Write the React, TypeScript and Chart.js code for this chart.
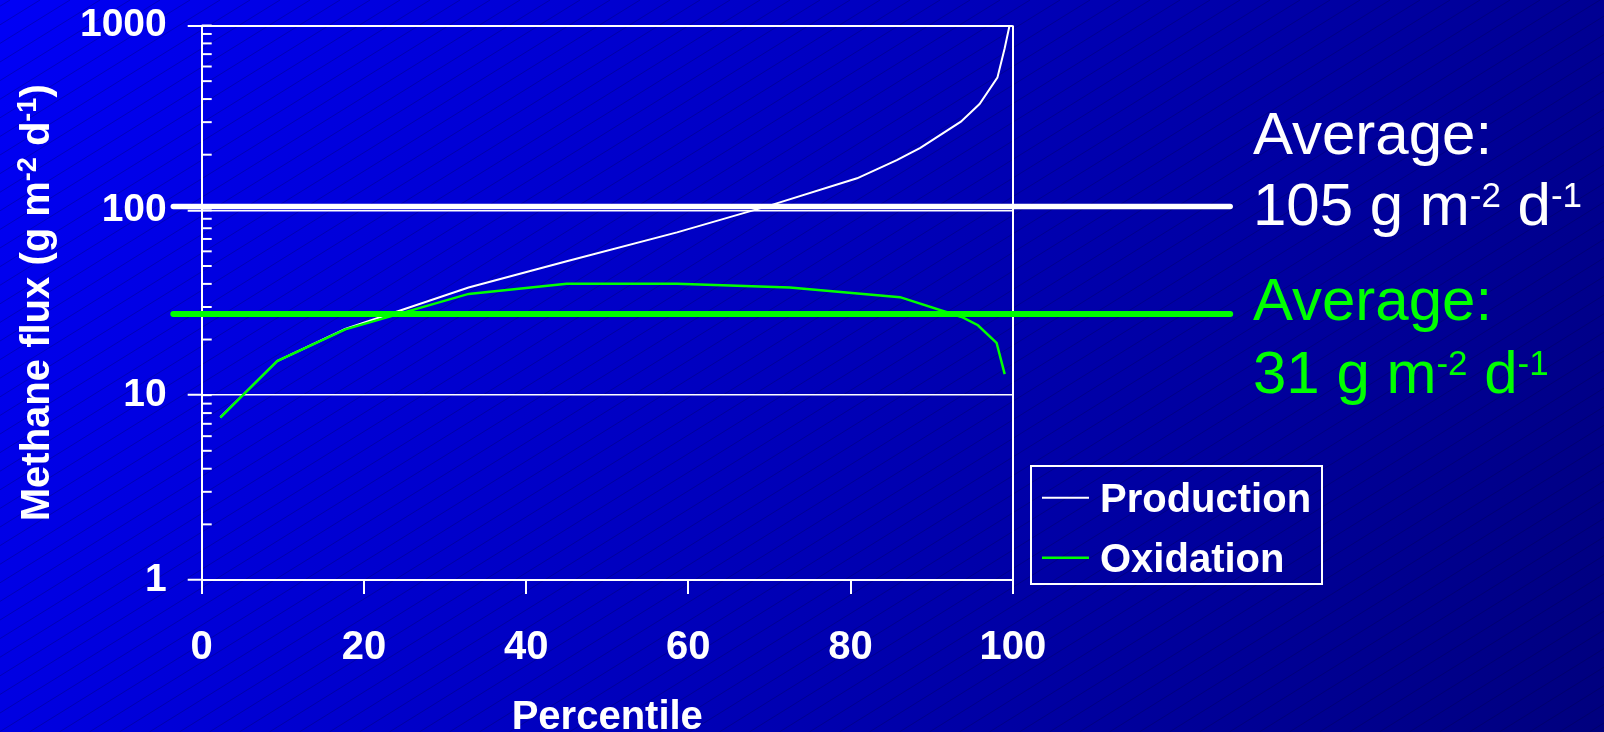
import React, { useEffect, useRef } from 'react';
import { Chart, registerables } from 'chart.js';

Chart.register(...registerables);

// ---------- data ----------
const productionPercentile = [2.3, 9.3, 17.7, 32.9, 45.0, 58.6, 70.0, 80.8, 85.7, 88.6, 93.6, 95.9, 98.1, 99.0, 99.6];
const productionFlux = [7.6, 15.3, 22.8, 38.2, 53, 76, 106, 149, 187, 218, 302, 376, 522, 754, 1000];

const oxidationPercentile = [2.3, 9.3, 17.7, 32.9, 45.0, 58.6, 72.5, 86.1, 93.7, 95.7, 98.0, 99.0];
const oxidationFlux = [7.55, 15.3, 22.7, 35.3, 40.1, 40.1, 38.2, 33.9, 26.5, 23.9, 19.2, 13.0];

const seriesLabels = ['Production', 'Oxidation'];
const seriesColors = ['#ffffff', '#00ff00'];

// drawn average levels (as placed in the picture) and their printed values
const averageLevels = [105, 27.5];
const averageValues = ['105', '31'];
const averageWidths = [5.5, 6];
const averageSpan = [-3.5, 126.8]; // in percentile units (line extends beyond the plot)

const xTicks = [0, 20, 40, 60, 80, 100];
const yMajorTicks = [1, 10, 100, 1000];
const yMinorSteps = [2, 3, 4, 5, 6, 7, 8, 9];

const FONT = '"Liberation Sans", Arial, Helvetica, sans-serif';

type Seg = { text: string; sup?: boolean };

function richWidth(ctx: CanvasRenderingContext2D, segs: Seg[], size: number, supSize: number, weight: string) {
  let w = 0;
  for (const s of segs) {
    ctx.font = `${weight} ${s.sup ? supSize : size}px ${FONT}`;
    w += ctx.measureText(s.text).width;
  }
  return w;
}

function drawRich(
  ctx: CanvasRenderingContext2D,
  x: number,
  y: number,
  segs: Seg[],
  size: number,
  supSize: number,
  rise: number,
  weight: string,
  color: string
) {
  let cx = x;
  ctx.fillStyle = color;
  ctx.textBaseline = 'alphabetic';
  ctx.textAlign = 'left';
  for (const s of segs) {
    ctx.font = `${weight} ${s.sup ? supSize : size}px ${FONT}`;
    ctx.fillText(s.text, cx, s.sup ? y - rise : y);
    cx += ctx.measureText(s.text).width;
  }
}

function yTickValues() {
  const vals: number[] = [];
  for (let d = 0; d < yMajorTicks.length; d++) {
    vals.push(yMajorTicks[d]);
    if (d < yMajorTicks.length - 1) yMinorSteps.forEach((m) => vals.push(m * yMajorTicks[d]));
  }
  return vals;
}

const backgroundPlugin = {
  id: 'slideBackground',
  beforeDraw(chart: any) {
    const { ctx, width, height } = chart;
    ctx.save();
    const g = ctx.createLinearGradient(0, 0, width, height);
    g.addColorStop(0, 'rgb(0,0,246)');
    g.addColorStop(1, 'rgb(0,0,126)');
    ctx.fillStyle = g;
    ctx.fillRect(0, 0, width, height);
    // faint diagonal texture
    ctx.strokeStyle = 'rgba(0,0,50,0.25)';
    ctx.lineWidth = 1;
    const slope = 0.62;
    const step = 30;
    for (let x0 = -height / slope - 50; x0 < width + 50; x0 += step) {
      ctx.beginPath();
      ctx.moveTo(x0, height);
      ctx.lineTo(x0 + height / slope, 0);
      ctx.stroke();
    }
    ctx.restore();
  },
};

const overlayPlugin = {
  id: 'overlay',
  afterDatasetsDraw(chart: any) {
    const { ctx, chartArea } = chart;
    const xs = chart.scales.x;
    const ys = chart.scales.y;
    ctx.save();

    // inside ticks on the y axis
    ctx.strokeStyle = '#ffffff';
    ctx.lineWidth = 2;
    yTickValues().forEach((v) => {
      const py = ys.getPixelForValue(v);
      ctx.beginPath();
      ctx.moveTo(chartArea.left, py);
      ctx.lineTo(chartArea.left + 10, py);
      ctx.stroke();
    });

    // average lines
    averageLevels.forEach((lvl, i) => {
      const py = ys.getPixelForValue(lvl);
      ctx.strokeStyle = seriesColors[i];
      ctx.lineWidth = averageWidths[i];
      ctx.lineCap = 'round';
      ctx.beginPath();
      ctx.moveTo(xs.getPixelForValue(averageSpan[0]), py);
      ctx.lineTo(xs.getPixelForValue(averageSpan[1]), py);
      ctx.stroke();
    });
    ctx.lineCap = 'butt';

    // average annotations
    const tx = 1253;
    const baselines = [
      [154, 225],
      [320, 393],
    ];
    averageValues.forEach((val, i) => {
      drawRich(ctx, tx, baselines[i][0], [{ text: 'Average:' }], 60, 35, 18, 'normal', seriesColors[i]);
      drawRich(
        ctx,
        tx,
        baselines[i][1],
        [{ text: `${val} g m` }, { text: '-2', sup: true }, { text: ' d' }, { text: '-1', sup: true }],
        60,
        35,
        18,
        'normal',
        seriesColors[i]
      );
    });

    // legend
    ctx.strokeStyle = '#ffffff';
    ctx.lineWidth = 2;
    ctx.strokeRect(1031, 466, 291, 118);
    const legendY = [497.7, 557.7];
    chart.data.datasets.forEach((ds: any, i: number) => {
      ctx.strokeStyle = ds.borderColor;
      ctx.lineWidth = ds.borderWidth;
      ctx.beginPath();
      ctx.moveTo(1042, legendY[i]);
      ctx.lineTo(1089, legendY[i]);
      ctx.stroke();
      ctx.fillStyle = '#ffffff';
      ctx.font = `bold 40px ${FONT}`;
      ctx.textAlign = 'left';
      ctx.textBaseline = 'alphabetic';
      ctx.fillText(ds.label, 1100, legendY[i] + 14);
    });

    // x title
    ctx.fillStyle = '#ffffff';
    ctx.font = `bold 40px ${FONT}`;
    ctx.textAlign = 'center';
    ctx.textBaseline = 'alphabetic';
    ctx.fillText('Percentile', (chartArea.left + chartArea.right) / 2, 729);

    // y title (rotated)
    const ySegs: Seg[] = [
      { text: 'Methane flux (g m' },
      { text: '-2', sup: true },
      { text: ' d' },
      { text: '-1', sup: true },
      { text: ')' },
    ];
    const w = richWidth(ctx, ySegs, 40, 27, 'bold');
    ctx.translate(49, (chartArea.top + chartArea.bottom) / 2);
    ctx.rotate(-Math.PI / 2);
    drawRich(ctx, -w / 2, 0, ySegs, 40, 27, 13, 'bold', '#ffffff');

    ctx.restore();
  },
};

export default function App() {
  const ref = useRef<HTMLCanvasElement | null>(null);

  useEffect(() => {
    const canvas = ref.current;
    if (!canvas) return;
    const chart = new Chart(canvas, {
      type: 'line',
      data: {
        datasets: [
          {
            label: seriesLabels[0],
            data: productionPercentile.map((x, i) => ({ x, y: productionFlux[i] })),
            borderColor: seriesColors[0],
            borderWidth: 2,
            pointRadius: 0,
            tension: 0,
            order: 1,
          },
          {
            label: seriesLabels[1],
            data: oxidationPercentile.map((x, i) => ({ x, y: oxidationFlux[i] })),
            borderColor: seriesColors[1],
            borderWidth: 2.5,
            pointRadius: 0,
            tension: 0,
            order: 0,
          },
        ],
      },
      options: {
        animation: false,
        responsive: false,
        devicePixelRatio: 1,
        layout: { padding: { left: 0, top: 25.5, right: 591.2, bottom: 0 } },
        plugins: {
          legend: { display: false },
          tooltip: { enabled: false },
          title: { display: false },
        },
        scales: {
          x: {
            type: 'linear',
            min: 0,
            max: 100,
            afterBuildTicks: (s: any) => {
              s.ticks = xTicks.map((v) => ({ value: v }));
            },
            afterFit: (s: any) => {
              s.height = 152;
              s.paddingLeft = 0;
              s.paddingRight = 0;
            },
            ticks: {
              color: '#ffffff',
              font: { family: FONT, size: 40, weight: 'bold' },
              padding: 30,
              maxRotation: 0,
              autoSkip: false,
            },
            grid: {
              color: (c: any) => (c.tick && c.tick.value === 100 ? '#ffffff' : 'rgba(0,0,0,0)'),
              lineWidth: 2,
              tickColor: '#ffffff',
              tickWidth: 2,
              tickLength: 14,
            },
            border: { display: true, color: '#ffffff', width: 2 },
          },
          y: {
            type: 'logarithmic',
            min: 1,
            max: 1000,
            afterBuildTicks: (s: any) => {
              s.ticks = yTickValues().map((v) => ({ value: v, major: yMajorTicks.includes(v) }));
            },
            afterFit: (s: any) => {
              s.width = 201.7;
              s.paddingTop = 0;
              s.paddingBottom = 0;
            },
            ticks: {
              color: '#ffffff',
              font: { family: FONT, size: 39, weight: 'bold' },
              padding: 21,
              autoSkip: false,
              callback: (v: any) => (yMajorTicks.includes(Number(v)) ? String(v) : ''),
            },
            grid: {
              color: (c: any) => (c.tick && yMajorTicks.includes(c.tick.value) ? '#ffffff' : 'rgba(0,0,0,0)'),
              lineWidth: (c: any) => (c.tick && c.tick.value === 1000 ? 2 : 1.5),
              tickColor: (c: any) => (c.tick && yMajorTicks.includes(c.tick.value) ? '#ffffff' : 'rgba(0,0,0,0)'),
              tickWidth: 2,
              tickLength: 14,
            },
            border: { display: true, color: '#ffffff', width: 2 },
          },
        },
      } as any,
      plugins: [backgroundPlugin, overlayPlugin],
    });
    return () => chart.destroy();
  }, []);

  return (
    <div style={{ position: 'fixed', left: 0, top: 0, width: 1604, height: 732 }}>
      <canvas ref={ref} width={1604} height={732} style={{ width: 1604, height: 732, display: 'block' }} />
    </div>
  );
}
